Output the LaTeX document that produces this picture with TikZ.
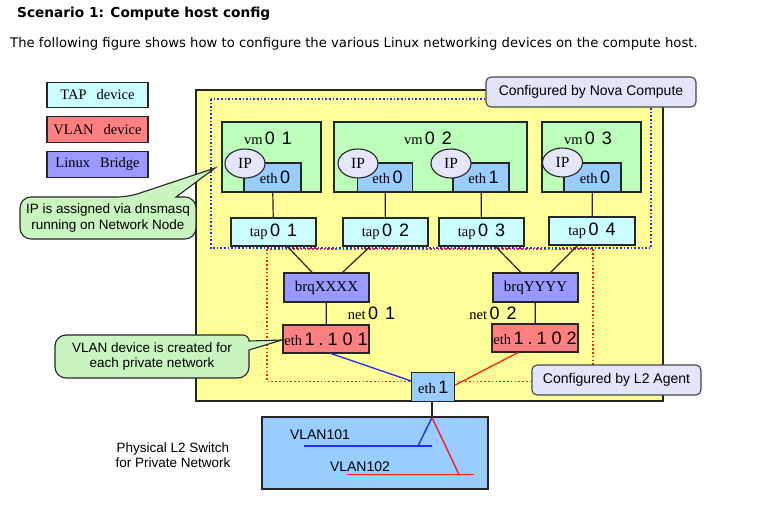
\documentclass[tikz,border=0pt]{standalone}
\usepackage{fontspec}
\setmainfont{Liberation Serif}
\setsansfont{Liberation Sans}
\newfontfamily\verd{DejaVu Sans}
\usetikzlibrary{calc,shapes.geometric}
\definecolor{ybg}{HTML}{FFFF99}
\definecolor{vmg}{HTML}{BBFFBB}
\definecolor{ethb}{HTML}{99CCFF}
\definecolor{tapc}{HTML}{CCFFFF}
\definecolor{vlanr}{HTML}{FF8080}
\definecolor{brg}{HTML}{9999FF}
\definecolor{ipf}{HTML}{E6E6FA}
\definecolor{notef}{HTML}{E4E4FA}
\definecolor{callg}{HTML}{C8F5C0}
\definecolor{edge}{HTML}{262626}
\definecolor{dblue}{HTML}{1F2FEE}
\definecolor{dred}{HTML}{FF1A1A}
\newcommand\dg[1]{{\sffamily\fontsize{18}{18}\selectfont #1}}
\newcommand\srf{\fontsize{14.5}{16}\selectfont}
\begin{document}
\begin{tikzpicture}[x=1pt,y=-1pt,
  every node/.style={inner sep=0pt},
  boxbase/.style={draw=edge, line width=1.1pt, font=\srf},
  legbox/.style={boxbase, minimum width=101, minimum height=25},
  vmbox/.style={boxbase, fill=vmg, minimum height=70},
  ethbox/.style={boxbase, fill=ethb, minimum height=29},
  tapbox/.style={boxbase, fill=tapc, minimum width=85, minimum height=28},
  brgbox/.style={boxbase, fill=brg, minimum width=85, minimum height=29},
  vlanbox/.style={boxbase, fill=vlanr, minimum width=86, minimum height=28},
  ipell/.style={boxbase, ellipse, fill=ipf, minimum width=40, minimum height=29, font=\fontsize{15.5}{16}\selectfont},
  notebox/.style={draw=edge!85, line width=1.1pt, fill=notef, rounded corners=5, font=\sffamily\fontsize{14}{15}\selectfont},
  conn/.style={draw=edge, line width=1.2pt},
  calloutshape/.style={draw=edge, line width=1.1pt, fill=callg},
  calltext/.style={font=\sffamily\fontsize{13.5}{15.5}\selectfont, align=center},
]
\fill[white] (0,0) rectangle (764,504);
\useasboundingbox (0,0) rectangle (764,504);

% header
\node[anchor=west, font=\verd\bfseries\fontsize{13.7}{15}\selectfont] (title) at (17,14) {Scenario 1: Compute host config};
\node[anchor=west, font=\verd\fontsize{13.2}{15}\selectfont] (sub) at (10,44) {The following figure shows how to configure the various Linux networking devices on the compute host.};

% legend
\node[legbox, fill=tapc] (lgtap) at (97.5,95) {TAP\hspace{10pt}device};
\node[legbox, fill=vlanr, minimum height=26] (lgvlan) at (97.5,129.5) {VLAN\hspace{10pt}device};
\node[legbox, fill=brg, minimum height=26] (lgbr) at (97.5,164.5) {Linux\hspace{10pt}Bridge};

% host
\draw[edge, line width=1.1pt, fill=ybg] (196,90) rectangle (663,401);
\draw[dred, line width=1.5pt, dash pattern=on 1.6pt off 2.2pt] (267,249) rectangle (593,381.5);
\draw[dblue, line width=1.6pt, dash pattern=on 1.6pt off 2pt] (211,99) rectangle (651,248);

% VMs
\node[vmbox, minimum width=99] (vm1) at (271.5,157) {};
\node[vmbox, minimum width=193] (vm2) at (430.5,157) {};
\node[vmbox, minimum width=99] (vm3) at (591.5,157) {};
\node[font=\srf] (vm1l) at (268,138) {vm\,\dg{0\hspace{7pt}1}};
\node[font=\srf] (vm2l) at (428,138) {vm\,\dg{0\hspace{7pt}2}};
\node[font=\srf] (vm3l) at (588,138) {vm\,\dg{0\hspace{7pt}3}};

\node[ethbox, minimum width=57] (e10) at (272.5,177.5) {\hspace*{5pt}eth\,\dg{0}};
\node[ethbox, minimum width=55] (e20) at (385,177.5) {\hspace*{5pt}eth\,\dg{0}};
\node[ethbox, minimum width=56] (e21) at (481,177.5) {\hspace*{5pt}eth\,\dg{1}};
\node[ethbox, minimum width=57] (e30) at (592.5,177.5) {\hspace*{5pt}eth\,\dg{0}};

\node[ipell] (ip1) at (245,163.5) {IP};
\node[ipell] (ip2) at (358,163.5) {IP};
\node[ipell] (ip3) at (451,163.5) {IP};
\node[ipell] (ip4) at (562.5,162.5) {IP};

% taps
\node[tapbox] (tap1) at (273.5,232) {tap\,\dg{0\hspace{7pt}1}};
\node[tapbox] (tap2) at (385.5,232) {tap\,\dg{0\hspace{7pt}2}};
\node[tapbox] (tap3) at (481.5,232) {tap\,\dg{0\hspace{7pt}3}};
\node[tapbox, minimum width=86] (tap4) at (592,231) {tap\,\dg{0\hspace{7pt}4}};

% bridges and vlans
\node[brgbox] (brx) at (326.5,287.5) {\fontsize{15}{16}\selectfont brqXXXX};
\node[brgbox] (bry) at (535.5,287.5) {\fontsize{15}{16}\selectfont brqYYYY};
\node[vlanbox] (v101) at (326,339) {eth\,\dg{1\hspace{4pt}.\hspace{4pt}1\hspace{5pt}0\hspace{5pt}1}};
\node[vlanbox] (v102) at (535,338) {eth\,\dg{1\hspace{4pt}.\hspace{4pt}1\hspace{5pt}0\hspace{5pt}2}};
\node[font=\srf] (net1) at (371.5,313) {net\,\dg{0\hspace{7pt}1}};
\node[font=\srf] (net2) at (493,313) {net\,\dg{0\hspace{7pt}2}};

% connectors inside host
\draw[conn] (e10) -- (tap1);
\draw[conn] (e20) -- (tap2);
\draw[conn] (e21) -- (tap3);
\draw[conn] (e30) -- (tap4);
\draw[conn] (tap1) -- (brx);
\draw[conn] (tap2) -- (brx);
\draw[conn] (tap3) -- (bry);
\draw[conn] (tap4) -- (bry);
\draw[conn] (brx) -- (v101);
\draw[conn] (bry) -- (v102);

% physical eth1
\node[ethbox, minimum width=43, minimum height=28.5] (eth1) at (433.3,387) {eth\,\dg{1}};
\draw[dblue, line width=1.3pt] ($(v101.south)+(5,0)$) -- ($(eth1.west)+(0,-6)$);
\draw[dred, line width=1.3pt] ($(v102.south)+(-17,0)$) -- ($(eth1.east)+(0,-2)$);

% notes
\node[notebox, minimum width=210, minimum height=30] (nova) at (591,92) {Configured by Nova Compute};
\node[notebox, minimum width=169, minimum height=30] (l2) at (616.5,380) {Configured by L2 Agent};

% switch
\node[draw=edge, line width=1.1pt, fill=ethb, minimum width=226, minimum height=72] (sw) at (375,453) {};
\coordinate (swtop) at (432,417.5);
\coordinate (b1) at (418,446);
\coordinate (b2) at (304,446);
\coordinate (b3) at (432,446);
\coordinate (r1) at (459,474.5);
\coordinate (r2) at (347,474.5);
\coordinate (r3) at (474,474.5);
\draw[conn] (eth1.south -| swtop) -- (swtop);
\draw[dblue, line width=1.4pt] (swtop) -- (b1);
\draw[dblue, line width=1.4pt] (b2) -- (b3);
\draw[dred, line width=1.4pt] (swtop) -- (r1);
\draw[dred, line width=1.4pt] (r2) -- (r3);
\node[font=\sffamily\fontsize{14}{16}\selectfont] (vl1) at (320,435) {VLAN101};
\node[font=\sffamily\fontsize{14}{16}\selectfont] (vl2) at (360,466.5) {VLAN102};
\node[calltext] (swl) at (173,455) {Physical L2 Switch\\for Private Network};

% callouts
\draw[calloutshape, rounded corners=11] (20,197) -- (128,197) [sharp corners] -- (215,168) -- (176,197) [rounded corners=11] -- (196,197) -- (196,239) -- (20,239) -- cycle;
\node[calltext] (c1) at (108,218) {IP is assigned via dnsmasq\\running on Network Node};
\draw[calloutshape, rounded corners=11] (55,356) -- (55,335) [rounded corners=6] -- (249,335) [sharp corners] -- (249,341) -- (282,340) -- (249,350) [rounded corners=11] -- (249,378) -- (55,378) -- cycle;
\node[calltext] (c2) at (152,356.5) {VLAN device is created for\\each private network};
\end{tikzpicture}
\end{document}
